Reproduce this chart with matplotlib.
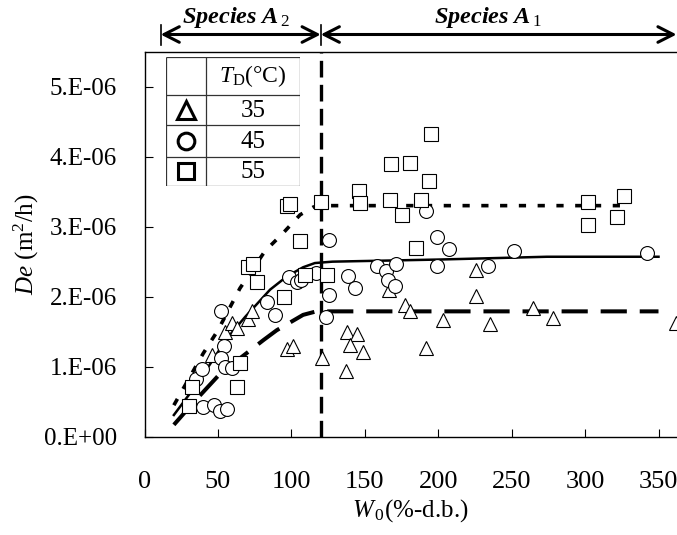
import matplotlib
matplotlib.use('Agg')
import matplotlib.pyplot as plt
from matplotlib.ticker import FuncFormatter
from matplotlib.transforms import blended_transform_factory
from matplotlib.lines import Line2D

plt.rcParams['font.family'] = 'Liberation Serif'
plt.rcParams['mathtext.fontset'] = 'custom'
plt.rcParams['mathtext.rm'] = 'Liberation Serif'
plt.rcParams['mathtext.it'] = 'Liberation Serif:italic'
plt.rcParams['mathtext.bf'] = 'Liberation Serif:italic:bold'
plt.rcParams['font.size'] = 18

# measured data (W0 in %-d.b., De in 1e-6 m2/h)
t35_x = [45.8, 54.5, 59.5, 62.9, 70.5, 73.5, 97, 100.8, 120.8, 137.9, 144.7, 139.7, 148.5,
         137.2, 166.3, 177.2, 181, 203.3, 191.8, 225.4, 226, 235.1, 264.7, 278.4, 361.8]
t35_y = [1.16, 1.5, 1.63, 1.55, 1.68, 1.79, 1.25, 1.29, 1.12, 1.5, 1.47, 1.31, 1.21,
         0.94, 2.1, 1.88, 1.79, 1.67, 1.26, 2.38, 2.01, 1.61, 1.84, 1.69, 1.63]

t45_x = [34.9, 39.4, 40.1, 47, 51.5, 56, 52, 53.8, 52, 54.9, 59.5, 83.3, 89, 98.7, 103.8,
         106.4, 117, 125.6, 125.6, 123.3, 138.5, 143.5, 158.3, 164.7, 165.8, 170.8, 171.5,
         192, 199.3, 207.4, 199.3, 233.8, 251.5, 342.4]
t45_y = [0.83, 0.96, 0.42, 0.45, 0.36, 0.39, 1.8, 1.29, 1.13, 1.0, 0.98, 1.92, 1.74, 2.28, 2.21,
         2.24, 2.34, 2.81, 2.03, 1.71, 2.3, 2.13, 2.44, 2.36, 2.24, 2.15, 2.47,
         3.23, 2.85, 2.68, 2.44, 2.44, 2.65, 2.63]

t55_x = [30.6, 32.4, 62.9, 65.1, 70.2, 74.2, 76.5, 94.7, 97, 98.8, 106, 109.5, 120.2, 124,
         146.3, 147, 167.9, 181, 195.2, 193.6, 167.4, 175.4, 188.6, 185.2, 302, 302, 321.5, 326.5]
t55_y = [0.44, 0.71, 0.71, 1.05, 2.43, 2.47, 2.21, 1.99, 3.3, 3.32, 2.79, 2.31, 3.35, 2.31,
         3.51, 3.34, 3.89, 3.91, 4.33, 3.65, 3.38, 3.16, 3.38, 2.7, 3.35, 3.02, 3.14, 3.44]

# fitted curves
c35_x = [20, 33, 51.5, 81, 90, 108, 117, 120, 350]
c35_y = [0.17, 0.48, 0.9, 1.38, 1.52, 1.74, 1.79, 1.79, 1.79]
c45_x = [20, 36, 56, 68.5, 85.5, 97, 108, 116, 128, 200, 274, 350]
c45_y = [0.31, 0.76, 1.4, 1.71, 2.1, 2.29, 2.42, 2.48, 2.5, 2.53, 2.57, 2.57]
c55_x = [20, 27, 40, 50, 65, 82, 94, 106, 115, 120, 330]
c55_y = [0.45, 0.71, 1.19, 1.52, 2.12, 2.65, 2.9, 3.17, 3.28, 3.3, 3.3]

boundary = 120
legend_labels = ['35', '45', '55']

W, H = 677, 535
fig = plt.figure(figsize=(W / 100, H / 100), dpi=100)
ax = fig.add_axes([144.5 / W, (H - 436.7) / H, (W - 144.5) / W, (436.7 - 52.3) / H])

e = 1e-6
ax.plot([boundary, boundary], [0, 5.5 * e], color='black', lw=2.4, dashes=(5, 2.2), zorder=2)
ax.plot(c35_x, [v * e for v in c35_y], color='black', lw=2.9, dashes=(6.5, 3.2), zorder=2)
ax.plot(c45_x, [v * e for v in c45_y], color='black', lw=1.8, zorder=2)
ax.plot(c55_x, [v * e for v in c55_y], color='black', lw=2.6, dashes=(2, 3.2), zorder=2)

mk = dict(linestyle='none', mfc='white', mec='black', mew=0.8, zorder=3)
ax.plot(t35_x, [v * e for v in t35_y], marker='^', ms=10.5, **mk)
ax.plot(t45_x, [v * e for v in t45_y], marker='o', ms=10, **mk)
ax.plot(t55_x, [v * e for v in t55_y], marker='s', ms=10, **mk)

ax.set_xlim(0, (W - 144.5) / ((658.5 - 144.5) / 350))
ax.set_ylim(0, 5.49 * e)
ax.set_xticks([0, 50, 100, 150, 200, 250, 300, 350])
ax.set_yticks([i * e for i in range(6)])


def yfmt(v, pos):
    n = round(v / e)
    return '0.E+00' if n == 0 else '%d.E-06' % n


ax.yaxis.set_major_formatter(FuncFormatter(yfmt))
ax.tick_params(direction='in', length=6, width=0.8)
ax.tick_params(axis='y', pad=20, labelsize=18)
ax.tick_params(axis='x', pad=25, labelsize=19)
ax.spines['right'].set_visible(False)
for s in ['left', 'bottom', 'top']:
    ax.spines[s].set_linewidth(1.0)
ax.set_xlabel(r'$\mathit{W}_{\,0}$(%-d.b.)', fontsize=18, labelpad=3)
ax.set_ylabel(r'$\mathit{De}$ (m$^{2}$/h)', fontsize=18, labelpad=2)

# species arrows above the plot
tr = blended_transform_factory(ax.transData, fig.transFigure)
ya = (H - 34.5) / H
xr = ax.get_xlim()[1] - 0.3
for x0, x1 in [(11, boundary), (boundary, xr)]:
    ax.annotate('', xy=(x0, ya), xytext=(x1, ya), xycoords=tr, textcoords=tr,
                annotation_clip=False,
                arrowprops=dict(arrowstyle='<->,head_length=0.55,head_width=0.28',
                                lw=2.2, color='black', shrinkA=0, shrinkB=0,
                                mutation_scale=20))
for xb in [11, boundary]:
    ax.add_line(Line2D([xb, xb], [(H - 25) / H, (H - 45) / H], transform=tr,
                       color='black', lw=1.2, clip_on=False))
ax.text(62, (H - 18) / H, r'$\mathbf{Species\ A}_{\,\mathit{2}}$', transform=tr,
        ha='center', va='center', fontsize=17.5)
ax.text(234, (H - 18) / H, r'$\mathbf{Species\ A}_{\,\mathit{1}}$', transform=tr,
        ha='center', va='center', fontsize=17.5)

# legend table
lx0, lx1, ly0, ly1 = 165.7, 300, 56.7, 185.7
lg = fig.add_axes([lx0 / W, (H - ly1) / H, (lx1 - lx0) / W, (ly1 - ly0) / H])
lg.set_xlim(lx0, lx1)
lg.set_ylim(ly1, ly0)
lg.axis('off')
lc = '#333333'
lg.add_patch(plt.Rectangle((lx0, ly0), lx1 - lx0, ly1 - ly0, fc='white', ec='none', zorder=0))
for yy in [ly0, 95, 125.3, 156.7, ly1]:
    lg.plot([lx0, lx1], [yy, yy], color=lc, lw=0.9, solid_capstyle='butt')
for xx in [lx0, 205.7, lx1]:
    lg.plot([xx, xx], [ly0, ly1], color=lc, lw=0.9, solid_capstyle='butt')
lg.text(252.8, 76, r'$\mathit{T}_{\rm D}$(°C)', ha='center', va='center', fontsize=17)
row_y = [110.2, 141, 171.2]
row_ms = [13, 12, 11.5]
for m, yy, lab, s in zip(['^', 'o', 's'], row_y, legend_labels, row_ms):
    lg.plot([185.7], [yy], marker=m, ms=s, mfc='white', mec='black', mew=2.2, linestyle='none')
    lg.text(252.8, yy + 1, lab, ha='center', va='center', fontsize=18)

plt.savefig('out.png', dpi=100)
